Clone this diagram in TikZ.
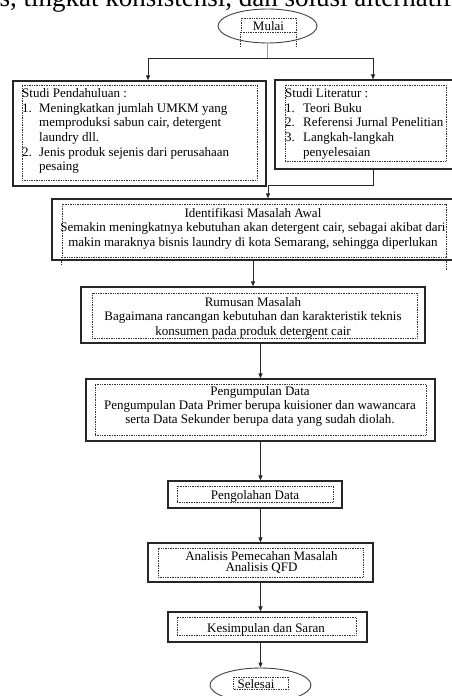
\documentclass[tikz,border=0pt]{standalone}
\usepackage{fontspec}
\setmainfont{Liberation Serif}
\usetikzlibrary{arrows.meta,shapes.geometric}
\begin{document}
\begin{tikzpicture}[x=1pt,y=-1pt,
 outer/.style={draw=black!85,line width=1.2pt,rectangle,inner sep=0pt},
 inbox/.style={draw=black!80,densely dotted,line width=0.7pt,rectangle,inner sep=0pt},
 term/.style={draw=black!75,line width=0.9pt,ellipse,inner sep=0pt},
 txt/.style={font=\fontsize{13}{14.6}\selectfont,inner sep=0pt},
 arr/.style={draw=black!85,line width=1pt,-{Triangle[length=5pt,width=4pt]}},
 ln/.style={draw=black!85,line width=1pt},
 dot/.style={draw=black!80,densely dotted,line width=0.7pt}]
\useasboundingbox (0,0) rectangle (452,696);
% clipped text fragment at the top
\node[anchor=base west,inner sep=0pt,font=\fontsize{27}{30}\selectfont] (frag) at (-8,6) {is, tingkat konsistensi, dan solusi alternatif};
% start
\node[term,minimum width=99pt,minimum height=34pt] (mulai) at (267.5,26) {};
\node[inbox,minimum width=55pt,minimum height=14pt] (mulaiin) at (268.5,25) {};
\draw[dot] (mulaiin.south west) -- ++(0,14);
\draw[dot] (mulaiin.south east) -- ++(0,14);
\node[txt,anchor=base] (mulaitxt) at (268.5,30) {Mulai};
% left box
\node[outer,minimum width=253pt,minimum height=105pt] (lbox) at (139.5,133.5) {};
\node[inbox,minimum width=235pt,minimum height=95pt] (lboxin) at (139.5,132.5) {};
\node[txt,anchor=north west,align=left] (ltxt) at (22,88.5) {Studi Pendahuluan :\\
\makebox[17pt][l]{1.}Meningkatkan jumlah UMKM yang\\
\hspace*{17pt}memproduksi sabun cair, detergent\\
\hspace*{17pt}laundry dll.\\
\makebox[17pt][l]{2.}Jenis produk sejenis dari perusahaan\\
\hspace*{17pt}pesaing};
% right box
\node[outer,minimum width=178pt,minimum height=89pt] (rbox) at (364,124.5) {};
\node[inbox,minimum width=161pt,minimum height=76pt] (rboxin) at (365.5,123) {};
\node[txt,anchor=north west,align=left] (rtxt) at (285,88.5) {Studi Literatur :\\
\makebox[18pt][l]{1.}Teori Buku\\
\makebox[18pt][l]{2.}Referensi Jurnal Penelitian\\
\makebox[18pt][l]{3.}Langkah-langkah\\
\hspace*{18pt}penyelesaian};
% identifikasi
\node[outer,minimum width=401pt,minimum height=61pt] (ident) at (252.5,229.5) {};
\node[inbox,minimum width=384pt,minimum height=53pt] (identin) at (254,230.5) {};
\draw[dot] (identin.south west) -- ++(0,8);
\draw[dot] (identin.south east) -- ++(0,13);
\node[txt,anchor=north,align=center,font=\fontsize{13}{14.5}\selectfont] (identtxt) at (253,208) {Identifikasi Masalah Awal\\
Semakin meningkatnya kebutuhan akan detergent cair, sebagai akibat dari\\
makin maraknya bisnis laundry di kota Semarang, sehingga diperlukan};
% rumusan
\node[outer,minimum width=344pt,minimum height=56pt] (rum) at (253,315) {};
\node[inbox,minimum width=325pt,minimum height=45pt] (rumin) at (254.5,315.5) {};
\node[txt,anchor=north,align=center,font=\fontsize{13}{14.5}\selectfont] (rumtxt) at (253,297) {Rumusan Masalah\\
Bagaimana rancangan  kebutuhan dan karakteristik teknis\\
konsumen pada produk detergent cair};
% pengumpulan
\node[outer,minimum width=349pt,minimum height=62pt] (peng) at (260.5,410) {};
\node[inbox,minimum width=331pt,minimum height=51pt] (pengin) at (260.5,409.5) {};
\node[txt,anchor=north,align=center,font=\fontsize{13}{14}\selectfont] (pengtxt) at (260,386.5) {Pengumpulan Data\\
Pengumpulan Data Primer berupa kuisioner dan wawancara\\
serta Data Sekunder berupa data yang sudah diolah.};
% pengolahan
\node[outer,minimum width=174pt,minimum height=27pt] (olah) at (255,494.5) {};
\node[inbox,minimum width=156pt,minimum height=16pt] (olahin) at (255,494) {};
\node[txt,anchor=base] (olahtxt) at (255,499) {Pengolahan Data};
% analisis
\node[outer,minimum width=225pt,minimum height=39pt] (ana) at (260.5,562.5) {};
\node[inbox,minimum width=205pt,minimum height=29pt] (anain) at (260.5,562.5) {};
\node[txt,anchor=north,align=center,font=\fontsize{13}{11.5}\selectfont] (anatxt) at (261.5,551) {Analisis Pemecahan Masalah\\
Analisis QFD};
% kesimpulan
\node[outer,minimum width=199pt,minimum height=30pt] (kes) at (267.5,627) {};
\node[inbox,minimum width=179pt,minimum height=18pt] (kesin) at (266.5,626) {};
\node[txt,anchor=base] (kestxt) at (266,632) {Kesimpulan dan Saran};
% selesai
\node[term,minimum width=101pt,minimum height=34pt] (sel) at (260.5,685) {};
\node[inbox,minimum width=55pt,minimum height=12pt] (selin) at (261,683) {};
\node[txt,anchor=base] (seltxt) at (256,688) {Selesai};
% connectors
\coordinate (split) at (267.5,58);
\coordinate (sl) at (148,58);
\coordinate (sr) at (373,58);
\draw[line width=1pt,draw={rgb,255:red,120;green,160;blue,210}] (mulai.south) -- (split);
\draw[ln] (sl) -- (sr);
\draw[arr] (sl) -- (sl |- lbox.north);
\draw[arr] (sr) -- (sr |- rbox.north);
\coordinate (mr) at (373,185);
\coordinate (ml) at (268,185);
\draw[ln] (mr |- rbox.south) -- (mr) -- (ml);
\draw[arr] (ml) -- (ml |- ident.north);
\draw[arr] (rum.north |- ident.south) -- (rum.north);
\draw[arr] (peng.north |- rum.south) -- (peng.north);
\draw[arr] (peng.south) -- (peng.south |- olah.north);
\draw[arr] (ana.north |- olah.south) -- (ana.north);
\draw[arr] (ana.south) -- (ana.south |- kes.north);
\draw[arr] (sel.north |- kes.south) -- (sel.north);
\end{tikzpicture}
\end{document}
